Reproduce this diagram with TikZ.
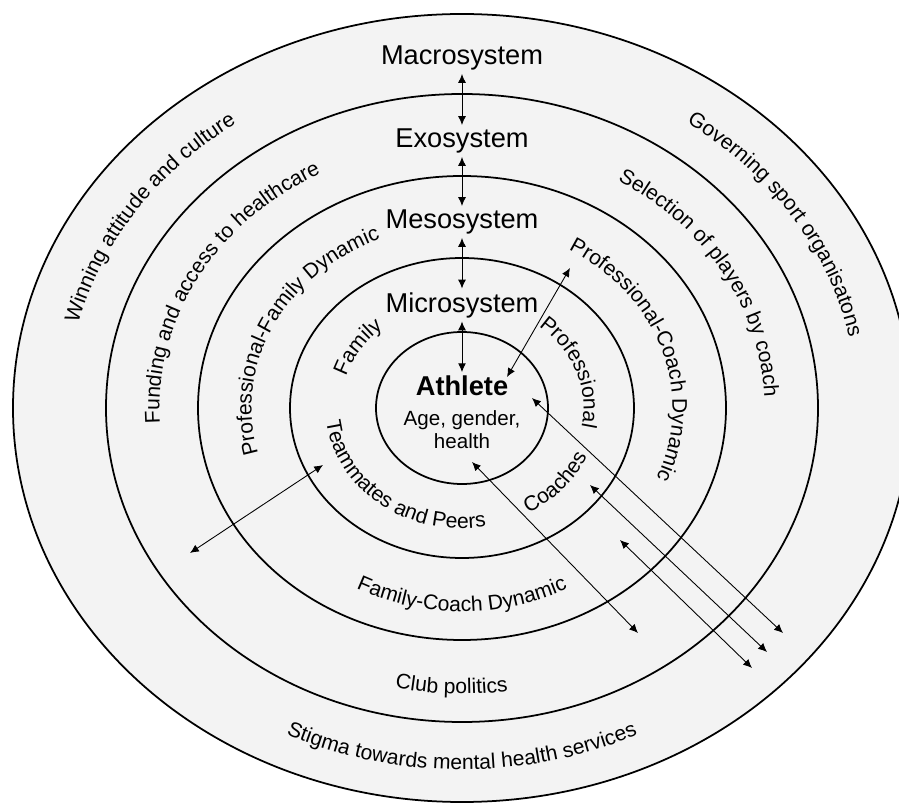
\documentclass[tikz,border=0pt]{standalone}
\usepackage{fontspec}
\setmainfont{Liberation Sans}
\usetikzlibrary{arrows.meta,decorations.text}

\definecolor{ringgray}{HTML}{F3F3F3}
\newcommand{\levelfont}{\fontsize{15.5}{18}\selectfont}
\newcommand{\ringfont}{\fontsize{12}{14}\selectfont}

\begin{document}
\begin{tikzpicture}[>={Latex[length=5pt,width=4.5pt]},
    ring/.style={draw, line width=1pt},
    level/.style={font=\levelfont, inner sep=2pt},
    link/.style={<->, line width=0.5pt},
    along/.style={decorate, decoration={text along path, text align=center, text={|\ringfont|#1}}}]

    \clip (-9.24,-7.92) rectangle (8.74,8.16);
    \fill[white] (-9.24,-7.92) rectangle (8.74,8.16);

    % Rings {athlete, micro, meso, exo, macro}
    \filldraw[ring, fill=ringgray] (0,0) ellipse [x radius=8.98, y radius=7.88];
    \draw[ring] (0,0) ellipse [x radius=7.12, y radius=6.28];
    \draw[ring] (0,0) ellipse [x radius=5.28, y radius=4.64];
    \draw[ring] (0,0) ellipse [x radius=3.44, y radius=3.00];
    \draw[ring] (0,0) ellipse [x radius=1.72, y radius=1.52];

    % Nodes {macro, exo, meso, micro, athlete}
    \node [level] (macro) at (0,7.00) {Macrosystem};
    \node [level] (exo)   at (0,5.34) {Exosystem};
    \node [level] (meso)  at (0,3.72) {Mesosystem};
    \node [level] (micro) at (0,2.06) {Microsystem};
    \node [level, font=\levelfont\bfseries] (athlete) at (0,0.44) {Athlete};
    \node [font=\fontsize{11.7}{13}\selectfont, align=center] (traits) at (0,-0.43) {Age, gender,\\health};

    % Ring texts, clockwise on top, anticlockwise below
    \path [along={Winning attitude and culture}] (197:7.91 and 6.93) arc [start angle=197, end angle=97, x radius=7.91, y radius=6.93];
    \path [along={Governing sport organisatons}] (82:7.91 and 6.93) arc [start angle=82, end angle=-18, x radius=7.91, y radius=6.93];
    \path [along={Stigma towards mental health services}] (220:8.21 and 7.23) arc [start angle=220, end angle=320, x radius=8.21, y radius=7.23];

    \path [along={Funding and access to healthcare}] (212:6.05 and 5.31) arc [start angle=212, end angle=92, x radius=6.05, y radius=5.31];
    \path [along={Selection of players by coach}] (89:6.05 and 5.31) arc [start angle=89, end angle=-31, x radius=6.05, y radius=5.31];
    \path [along={Club politics}] (228:6.40 and 5.72) arc [start angle=228, end angle=308, x radius=6.40, y radius=5.72];

    \path [along={Professional-Family Dynamic}] (225:4.21 and 3.67) arc [start angle=225, end angle=85, x radius=4.21, y radius=3.67];
    \path [along={Professional-Coach Dynamic}] (87.5:4.21 and 3.67) arc [start angle=87.5, end angle=-52.5, x radius=4.21, y radius=3.67];
    \path [along={Family-Coach Dynamic}] (200:4.60 and 4.07) arc [start angle=200, end angle=340, x radius=4.60, y radius=4.07];

    \path [along={Family}] (209:2.43 and 2.11) arc [start angle=209, end angle=89, x radius=2.43, y radius=2.11];
    \path [along={Professional}] (79:2.43 and 2.11) arc [start angle=79, end angle=-41, x radius=2.43, y radius=2.11];
    \path [along={Coaches}] (-100:2.73 and 2.41) arc [start angle=-100, end angle=20, x radius=2.73, y radius=2.41];
    \path [along={Teammates and Peers}] (162:2.73 and 2.41) arc [start angle=162, end angle=302, x radius=2.73, y radius=2.41];

    % Arrow ends
    \coordinate (pcIn)  at (0.90,0.62);   \coordinate (pcOut) at (2.16,2.80);
    \coordinate (tmIn)  at (-2.78,-1.14); \coordinate (tmOut) at (-5.44,-2.90);
    \coordinate (hIn)   at (0.20,-1.08);  \coordinate (hOut)  at (3.52,-4.50);
    \coordinate (aIn)   at (1.40,0.20);   \coordinate (aOut)  at (6.42,-4.50);
    \coordinate (cIn)   at (2.56,-1.54);  \coordinate (cOut)  at (6.10,-4.88);
    \coordinate (fcIn)  at (3.16,-2.64);  \coordinate (fcOut) at (5.80,-5.20);

    % Paths
    \draw [link] (macro) -- (exo);
    \draw [link] (exo) -- (meso);
    \draw [link] (meso) -- (micro);
    \draw [link] (micro) -- (athlete);
    \draw [link] (pcIn) -- (pcOut);
    \draw [link] (tmIn) -- (tmOut);
    \draw [link] (hIn) -- (hOut);
    \draw [link] (aIn) -- (aOut);
    \draw [link] (cIn) -- (cOut);
    \draw [link] (fcIn) -- (fcOut);

\end{tikzpicture}
\end{document}
